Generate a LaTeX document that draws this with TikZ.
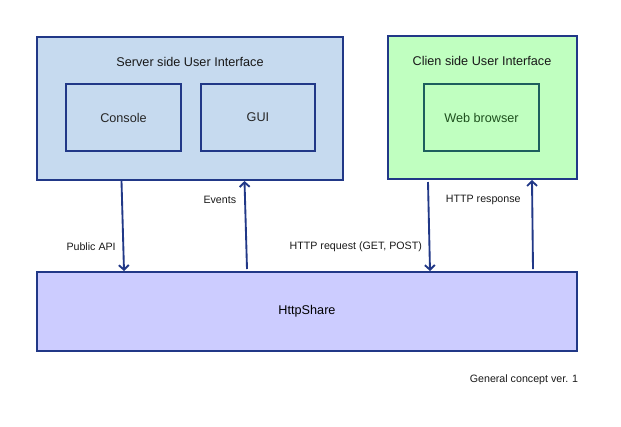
\documentclass[tikz,border=0pt]{standalone}
\usepackage{fontspec}
\setmainfont{Liberation Sans}
\usepackage{tikz}
\usetikzlibrary{calc,arrows.meta}
\tikzset{>={Straight Barb[length=3.5pt, width=7.5pt]}}
\definecolor{navy}{RGB}{33,56,135}
\definecolor{srvfill}{RGB}{198,218,239}
\definecolor{clifill}{RGB}{192,255,192}
\definecolor{shrfill}{RGB}{204,204,255}
\definecolor{teal}{RGB}{30,94,94}
\definecolor{leaf}{RGB}{30,80,30}
\tikzset{
  outer/.style={draw=navy, line width=1.5pt, rectangle, inner sep=0pt},
  inner/.style={draw=navy, line width=1.5pt, rectangle, inner sep=0pt, font=\fontsize{9.5}{11}\selectfont, text=black!85},
  title/.style={font=\fontsize{9.5}{11}\selectfont, text=black!90},
  lbl/.style={font=\fontsize{8}{10}\selectfont, text=black!90, anchor=east, inner sep=0pt},
  link/.style={->, draw=navy, line width=1.4pt}
}

\begin{document}
\begin{tikzpicture}[x=0.75pt, y=-0.75pt]
\useasboundingbox (0,0) rectangle (621,426);
\node[outer, fill=srvfill, minimum width=229.5pt, minimum height=107.25pt] (server) at (189.5,108.5) {};
\node[outer, fill=clifill, minimum width=141.75pt, minimum height=107.25pt] (client) at (482.5,107.5) {};
\node[outer, fill=shrfill, minimum width=405pt, minimum height=59.25pt, font=\fontsize{9.5}{11}\selectfont] (share) at (307,311.5) {HttpShare};
\node[title] (srvtitle) at (190,62) {Server side User Interface};
\node[title] (clititle) at (482,61) {Clien side User Interface};
\node[inner, minimum width=86.25pt, minimum height=50.25pt] (console) at (123.5,117.5) {Console};
\node[inner, minimum width=85.5pt, minimum height=50.25pt] (gui) at (258,117.5) {GUI};
\node[inner, draw=teal, text=leaf, minimum width=86.25pt, minimum height=50.25pt] (browser) at (481.5,117.5) {Web browser};
\draw[link] ($(server.south west)+(86,0)$) -- node[lbl, pos=0.73, xshift=-5pt] {Public API} ($(share.north west)+(88,0)$);
\draw[link] ($(share.north west)+(211,-2)$) -- node[lbl, pos=0.78, xshift=-6pt] {Events} ($(server.south west)+(209,0)$);
\draw[link] ($(client.south west)+(41,2)$) -- node[lbl, pos=0.73, xshift=-5pt] {HTTP request (GET, POST)} ($(share.north west)+(394,0)$);
\draw[link] ($(share.north west)+(497,-2)$) -- node[lbl, pos=0.78, xshift=-8pt] {HTTP response} ($(client.south west)+(145,0)$);
\node[font=\fontsize{8}{10}\selectfont, text=black!90] (note) at (524,380) {General concept ver. 1};
\end{tikzpicture}
\end{document}
